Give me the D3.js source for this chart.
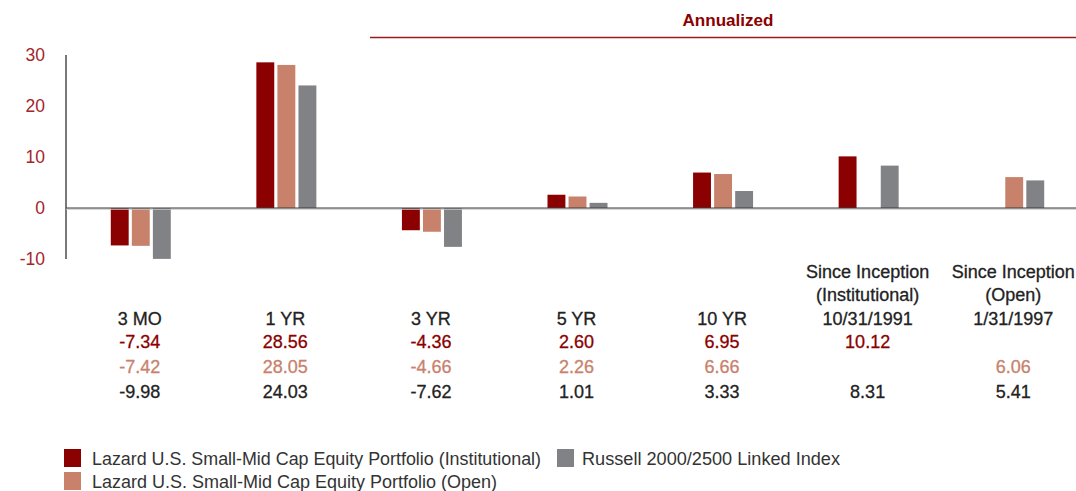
<!DOCTYPE html>
<html>
<head>
<meta charset="utf-8">
<script src="https://cdn.jsdelivr.net/npm/d3@7"></script>
<style>
  html, body { margin: 0; padding: 0; background: #fff; }
  svg { display: block; }
  text { font-family: "Liberation Sans", "Arial", sans-serif; }
</style>
</head>
<body>
<svg id="chart" width="1076" height="491"></svg>
<script>
// Periods shown along the x axis (multi-line headers for the inception columns)
const periods = ["3 MO", "1 YR", "3 YR", "5 YR", "10 YR", "SI Inst", "SI Open"];
const periodLabels = [
  ["3 MO"], ["1 YR"], ["3 YR"], ["5 YR"], ["10 YR"],
  ["Since Inception", "(Institutional)", "10/31/1991"],
  ["Since Inception", "(Open)", "1/31/1997"]
];

// Returns (%) per series; null = not applicable
const institutional = [-7.34, 28.56, -4.36, 2.60, 6.95, 10.12, null];
const openShares    = [-7.42, 28.05, -4.66, 2.26, 6.66, null, 6.06];
const benchmark     = [-9.98, 24.03, -7.62, 1.01, 3.33, 8.31, 5.41];

const seriesNames = [
  "Lazard U.S. Small-Mid Cap Equity Portfolio (Institutional)",
  "Lazard U.S. Small-Mid Cap Equity Portfolio (Open)",
  "Russell 2000/2500 Linked Index"
];
const yTicks = [-10, 0, 10, 20, 30];

const colors = ["#8b0000", "#c8826c", "#818285"];
const series = [institutional, openShares, benchmark];

const fmt = v => d3.format(".2f")(v).replace("\u2212", "-");

const svg = d3.select("#chart");

const x = d3.scaleBand().domain(periods).range([67, 1086]).paddingInner(0).paddingOuter(0);
const xSub = d3.scaleBand().domain([0, 1, 2]).range([-29, 31]).paddingInner(3 / 20);
const y = d3.scaleLinear().domain([-10, 30]).range([259, 55]);

// Y axis tick labels
svg.append("g").selectAll("text").data(yTicks).join("text")
  .attr("x", 45).attr("y", d => y(d))
  .attr("text-anchor", "end").attr("dominant-baseline", "central")
  .attr("fill", "#a2262a").attr("font-size", 17.5)
  .text(d => String(d));

// Vertical axis line
svg.append("line")
  .attr("x1", 66).attr("x2", 66).attr("y1", y(30)).attr("y2", y(-10))
  .attr("stroke", "#4d4d4d").attr("stroke-width", 1.5);

// Bars
series.forEach((vals, si) => {
  svg.append("g").selectAll("rect")
    .data(vals.map((v, i) => ({ v, p: periods[i] })).filter(d => d.v !== null))
    .join("rect")
    .attr("x", d => x(d.p) + x.bandwidth() / 2 + xSub(si))
    .attr("width", xSub.bandwidth())
    .attr("y", d => y(Math.max(0, d.v)))
    .attr("height", d => Math.abs(y(d.v) - y(0)))
    .attr("fill", colors[si]);
});

// Zero baseline
svg.append("line")
  .attr("x1", 66).attr("x2", 1076).attr("y1", y(0) + 1.2).attr("y2", y(0) + 1.2)
  .attr("stroke", "#c8c8c8").attr("stroke-width", 1.2);
svg.append("line")
  .attr("x1", 66).attr("x2", 1076).attr("y1", y(0)).attr("y2", y(0))
  .attr("stroke", "#3a3a3a").attr("stroke-width", 1.2);

// "Annualized" header with rule
svg.append("text")
  .attr("x", 728).attr("y", 26).attr("text-anchor", "middle")
  .attr("fill", "#8b0000").attr("font-size", 16.5).attr("font-weight", 700)
  .attr("textLength", 91).attr("lengthAdjust", "spacingAndGlyphs")
  .text("Annualized");
svg.append("line")
  .attr("x1", 370).attr("x2", 1076).attr("y1", 37.5).attr("y2", 37.5)
  .attr("stroke", "#9b1b1b").attr("stroke-width", 1.5);

// Period headers (bottom-aligned to the same baseline)
const headerBase = 324.5;
const lineH = 23.5;
const strong = sel => sel.attr("font-size", 18).attr("stroke-width", 0.3);
periodLabels.forEach((lines, i) => {
  const cx = x(periods[i]) + x.bandwidth() / 2;
  lines.forEach((t, j) => {
    svg.append("text")
      .attr("x", cx).attr("y", headerBase - (lines.length - 1 - j) * lineH)
      .attr("text-anchor", "middle").attr("fill", "#222").attr("stroke", "#222")
      .call(strong)
      .text(t);
  });
});

// Value table rows
const valueColors = ["#8b0000", "#c8826c", "#222"];
series.forEach((vals, si) => {
  svg.append("g").selectAll("text")
    .data(vals.map((v, i) => ({ v, p: periods[i] })).filter(d => d.v !== null))
    .join("text")
    .attr("x", d => x(d.p) + x.bandwidth() / 2)
    .attr("y", 347.5 + si * 25)
    .attr("text-anchor", "middle")
    .attr("fill", valueColors[si]).attr("stroke", valueColors[si])
    .call(strong)
    .text(d => fmt(d.v));
});

// Legend
const legendPos = [[64, 449], [64, 472], [557, 449]];
const legendTextX = [92, 92, 582];
const legendWidths = [449, 405, 258];
seriesNames.forEach((name, i) => {
  const [lx, ly] = legendPos[i];
  svg.append("rect").attr("x", lx).attr("y", ly).attr("width", 17).attr("height", 18)
    .attr("fill", colors[i]);
  svg.append("text").attr("x", legendTextX[i]).attr("y", ly + 9.5)
    .attr("dominant-baseline", "central").attr("fill", "#333")
    .attr("font-size", 17.5)
    .attr("textLength", legendWidths[i]).attr("lengthAdjust", "spacingAndGlyphs")
    .text(name);
});
</script>
</body>
</html>
